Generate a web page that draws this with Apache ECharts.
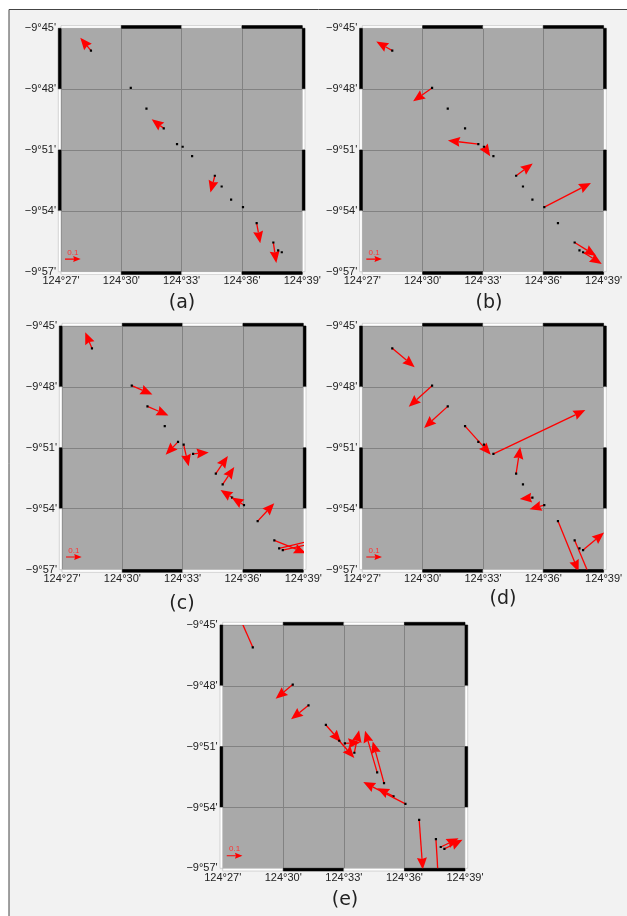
<!DOCTYPE html>
<html><head><meta charset="utf-8">
<style>html,body{margin:0;padding:0;background:#fff}#c{width:627px;height:916px;filter:blur(0.4px)}</style>
<script src="https://cdn.jsdelivr.net/npm/echarts@6/dist/echarts.min.js"></script>
</head><body><div id="c"></div>
<script>
// Station positions: minutes east of 124 deg, minutes south of -9 deg (negative)
const stationLon = [28.49,30.47,31.25,32.11,32.77,33.05,33.52,34.65,34.99,35.46,36.05,36.73,37.56,37.80,37.98];
const stationLat = [-46.10,-47.94,-48.96,-49.93,-50.71,-50.84,-51.30,-52.27,-52.80,-53.45,-53.82,-54.61,-55.56,-55.95,-56.04];
// Vector components per panel
const uA = [-0.068,0,0,-0.077,0,0,0,-0.028,0,0,0,0.023,0.019,0,0];
const vA = [0.081,0,0,0.057,0,0,0,-0.106,0,0,0,-0.126,-0.130,0,0];
const uB = [-0.102,-0.121,0,0,-0.194,0.040,0,0.106,0,0,0.298,0,0.138,0,0.119];
const vB = [0.057,-0.085,0,0,0.023,-0.060,0,0.077,0,0,0.153,0,-0.085,0,-0.074];
const uC = [-0.043,0.132,0.134,0,-0.079,0.032,0.100,0.077,0.074,-0.074,-0.079,0.106,0.202,0.240,0.219];
const vC = [0.102,-0.055,-0.057,0,-0.081,-0.138,0.009,0.111,0.109,0.047,0.047,0.113,-0.081,0.057,0.049];
const uD = [0.143,-0.149,-0.151,0.164,0,0,0.587,0.026,0,-0.081,-0.094,0.132,0.115,0,0.134];
const vD = [-0.119,-0.134,-0.136,-0.181,0,0,0.277,0.168,0,-0.009,-0.026,-0.321,-0.270,0,0.111];
const uE = [-0.100,-0.109,-0.111,0.096,0.096,0.098,0.030,-0.077,-0.072,-0.104,-0.268,0.023,0.017,0.113,0.115];
const vE = [0.226,-0.089,-0.089,-0.109,-0.109,0.006,0.143,0.264,0.264,0.051,0.138,-0.315,-0.277,0.055,0.057];
const panelLabels = ['(a)','(b)','(c)','(d)','(e)'];
const xTicks = [27,30,33,36,39];
const yTicks = [-57,-54,-51,-48,-45];
const refVector = [27.2,-56.38,0.1,0];
const minutesPerUnit = 7.79;
const barX = [[27,30,0],[30,33,1],[33,36,0],[36,39,1]];
const barY = [[-45,-48,1],[-48,-51,0],[-51,-54,1],[-54,-57,0]];

const panels = [
  {u:uA,v:vA,box:[61,28.3,241.3,243.4],lab:[182,303]},
  {u:uB,v:vB,box:[362.3,28.3,241.3,243.4],lab:[489,303]},
  {u:uC,v:vC,box:[62,326,241.3,243.6],lab:[182,604]},
  {u:uD,v:vD,box:[362.3,326,241.3,243.6],lab:[503,599]},
  {u:uE,v:vE,box:[222.7,625,242.3,243.3],lab:[345,900]}
];
const FONT = '"Liberation Sans",Arial,sans-serif';

function arrowShapes(x0,y0,x1,y1,L,W,lw){
  const dx=x1-x0, dy=y1-y0, len=Math.hypot(dx,dy)||1, ux=dx/len, uy=dy/len, px=-uy, py=ux;
  const bx=x1-ux*L, by=y1-uy*L, nx=x1-ux*L*0.88, ny=y1-uy*L*0.88;
  return [
    {type:'line',shape:{x1:x0,y1:y0,x2:nx,y2:ny},style:{stroke:'#f00',lineWidth:lw}},
    {type:'polygon',shape:{points:[[x1,y1],[bx+px*W,by+py*W],[nx,ny],[bx-px*W,by-py*W]]},style:{fill:'#f00'}}
  ];
}
function renderVector(params,api){
  const lon=api.value(0), lat=api.value(1), u=api.value(2), v=api.value(3);
  const p0=api.coord([lon,lat]);
  const children=[];
  if(u||v){
    const p1=api.coord([lon+u*minutesPerUnit,lat+v*minutesPerUnit]);
    children.push(...arrowShapes(p0[0],p0[1],p1[0],p1[1],12,5,1.3));
  }
  children.push({type:'rect',shape:{x:p0[0]-1.1,y:p0[1]-1.1,width:2.2,height:2.2},style:{fill:'#000'}});
  return {type:'group',children};
}
function renderRef(params,api){
  const lon=api.value(0), lat=api.value(1), u=api.value(2);
  const p0=api.coord([lon,lat]), p1=api.coord([lon+u*minutesPerUnit,lat]);
  const ch=arrowShapes(p0[0],p0[1],p1[0],p1[1],7.5,3,1.1);
  ch.push({type:'text',style:{text:String(u),x:(p0[0]+p1[0])/2,y:p0[1]-2.5,fill:'#f33',font:'8px '+FONT,align:'center',verticalAlign:'bottom'}});
  return {type:'group',children:ch};
}
const T=2.7;
function renderFrame(params,api){
  const a=api.value(0), b=api.value(1), black=api.value(2), side=api.value(3);
  const fill=black?'#000':'#fff', stroke=black?'#000':'#bbb';
  let r;
  if(side<2){
    const p=api.coord([a,side===0?-45:-57]), q=api.coord([b,side===0?-45:-57]);
    r={x:p[0],y:side===0?p[1]-T:p[1],width:q[0]-p[0],height:T};
  }else{
    const p=api.coord([side===2?27:39,a]), q=api.coord([side===2?27:39,b]);
    r={x:side===2?p[0]-T:p[0],y:p[1],width:T,height:q[1]-p[1]};
  }
  return {type:'rect',shape:r,style:{fill,stroke,lineWidth:0.6}};
}

const grid=[],xAxis=[],yAxis=[],series=[],graphic=[];
graphic.push({type:'rect',z:-10,shape:{x:9,y:9.5,width:640,height:930},style:{fill:'#f2f2f2',stroke:'#444',lineWidth:1}});
panels.forEach((p,i)=>{
  grid.push({left:p.box[0],top:p.box[1],width:p.box[2],height:p.box[3],show:true,backgroundColor:'#a9a9a9',borderWidth:0});
  xAxis.push({type:'value',gridIndex:i,min:xTicks[0],max:xTicks[4],interval:3,
    axisLine:{show:false},axisTick:{show:false},
    splitLine:{show:true,lineStyle:{color:'#828282',width:1}},
    axisLabel:{margin:4,color:'#222',fontFamily:FONT,fontSize:11,hideOverlap:false,showMinLabel:true,showMaxLabel:true,formatter:v=>`124°${v}'`}});
  yAxis.push({type:'value',gridIndex:i,min:yTicks[0],max:yTicks[4],interval:3,
    axisLine:{show:false},axisTick:{show:false},
    splitLine:{show:true,lineStyle:{color:'#828282',width:1}},
    axisLabel:{margin:5,color:'#222',fontFamily:FONT,fontSize:11,hideOverlap:false,showMinLabel:true,showMaxLabel:true,formatter:v=>`\u22129°${-v}'`}});
  const frameData=[];
  barX.forEach(b=>{frameData.push([b[0],b[1],b[2],0]);frameData.push([b[0],b[1],b[2],1]);});
  barY.forEach(b=>{frameData.push([b[0],b[1],b[2],2]);frameData.push([b[0],b[1],b[2],3]);});
  series.push({type:'custom',name:'frame'+i,xAxisIndex:i,yAxisIndex:i,clip:false,silent:true,z:3,renderItem:renderFrame,data:frameData,encode:{x:0,y:1}});
  series.push({type:'custom',name:'vectors'+i,xAxisIndex:i,yAxisIndex:i,clip:true,silent:true,z:4,renderItem:renderVector,
    data:stationLon.map((lon,k)=>[lon,stationLat[k],p.u[k],p.v[k]]),encode:{x:0,y:1}});
  series.push({type:'custom',name:'ref'+i,xAxisIndex:i,yAxisIndex:i,clip:true,silent:true,z:4,renderItem:renderRef,data:[refVector],encode:{x:0,y:1}});
  graphic.push({type:'text',z:5,style:{text:panelLabels[i],x:p.lab[0],y:p.lab[1],fill:'#222',font:'19px "DejaVu Sans"',align:'center',verticalAlign:'middle'}});
});
const chart=echarts.init(document.getElementById('c'),null,{renderer:'canvas'});
chart.setOption({animation:false,backgroundColor:'#fff',grid,xAxis,yAxis,series,graphic});
</script></body></html>
